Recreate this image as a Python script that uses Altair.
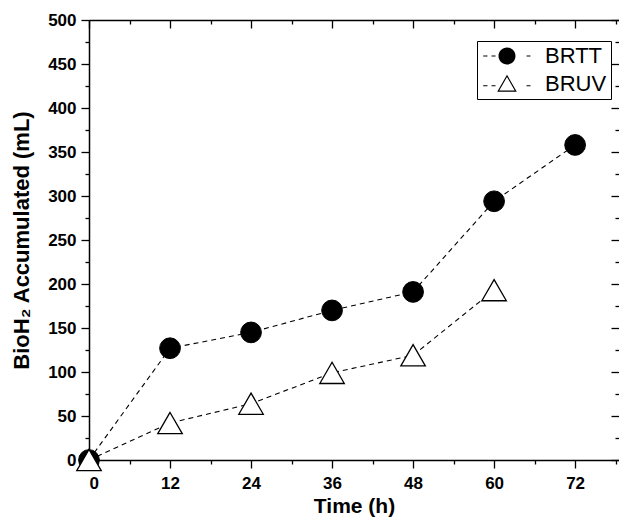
import altair as alt
import pandas as pd

FONT = "Liberation Sans"

hours = [0, 12, 24, 36, 48, 60, 72]
brtt = [0, 127, 145, 170, 191, 294, 358]
bruv = [0, 42, 64, 99, 119, 193]
series_names = ["BRTT", "BRUV"]

x_major = [0, 12, 24, 36, 48, 60, 72]
x_minor = [6, 18, 30, 42, 54, 66, 78]
y_major = [0, 50, 100, 150, 200, 250, 300, 350, 400, 450, 500]
y_minor = [25, 75, 125, 175, 225, 275, 325, 375, 425, 475]

rows = [{"t": t, "v": v, "series": "BRTT"} for t, v in zip(hours, brtt)]
rows += [{"t": t, "v": v, "series": "BRUV"} for t, v in zip(hours, bruv)]
df = pd.DataFrame(rows)

# legend symbols (filled paths): dashed line pieces with the marker in the middle
h = 0.065
path_brtt = (f"M-2.8,{-h}H-2.3V{h}H-2.8Z"
             f"M-1.82,{-h}H-1.35V{h}H-1.82Z"
             f"M2.3,{-h}H2.76V{h}H2.3Z"
             "M1,0A1,1,0,1,1,-1,0A1,1,0,1,1,1,0Z")
d = 0.2
path_bruv = (f"M-2.8,{d - h}H-2.3V{d + h}H-2.8Z"
             f"M-1.82,{d - h}H-1.35V{d + h}H-1.82Z"
             f"M2.3,{d - h}H2.76V{d + h}H2.3Z"
             "M0,-1.1L1.15,0.9L-1.15,0.9Z"
             "M0,-0.82L-0.909,0.76L0.909,0.76Z")

X_SCALE = alt.Scale(domain=[0, 78.5], nice=False, zero=False)
Y_SCALE = alt.Scale(domain=[0, 500], nice=False)


def axis(orient, values, size, labels=False, domain=False, inward=False, **kw):
    ts = alt.ExprRef(expr=str(-size)) if inward else size
    return alt.Axis(orient=orient, values=values, tickSize=ts, offset=0,
                    labels=labels, domain=domain, domainColor="black",
                    domainWidth=1.5, grid=False, tickColor="black",
                    tickWidth=1.3, **kw)


label_kw = dict(labelFont=FONT, labelFontSize=17, labelFontWeight="bold",
                labelColor="black")

base = alt.Chart(df)

lines = base.mark_line(color="black", strokeDash=[5, 4], strokeWidth=1.1).encode(
    x=alt.X("t:Q", scale=X_SCALE,
            axis=axis("bottom", x_major, 8, labels=True, domain=True,
                      labelPadding=7, title="Time (h)", titlePadding=4,
                      titleFont=FONT, titleFontSize=21, titleFontWeight="bold",
                      titleColor="black", **label_kw)),
    y=alt.Y("v:Q", scale=Y_SCALE,
            axis=axis("left", y_major, 8, labels=True, domain=True,
                      labelPadding=5, title="BioH\u2082 Accumulated (mL)",
                      titlePadding=14, titleFont=FONT, titleFontSize=22,
                      titleFontWeight="bold", titleColor="black", **label_kw)),
    detail="series:N",
)

pts_brtt = base.transform_filter(alt.datum.series == "BRTT").mark_point(
    shape="circle", filled=True, fill="black", stroke="black", strokeWidth=1,
    size=430, opacity=1
).encode(
    x=alt.X("t:Q", scale=X_SCALE, axis=axis("bottom", x_minor, 4, title=None)),
    y=alt.Y("v:Q", scale=Y_SCALE, axis=axis("left", y_minor, 4, title=None)),
)

pts_bruv = base.transform_filter(alt.datum.series == "BRUV").mark_point(
    shape="triangle-up", filled=True, fill="white", stroke="black",
    strokeWidth=1.3, size=600, opacity=1
).encode(
    x=alt.X("t:Q", scale=X_SCALE,
            axis=axis("top", x_major, 8, domain=True, inward=True, title=None)),
    y=alt.Y("v:Q", scale=Y_SCALE,
            axis=axis("right", y_major, 8, inward=True, title=None)),
)

leg = alt.Legend(
    orient="none", legendX=388, legendY=21, title=None,
    strokeColor="black", fillColor="white", padding=4, cornerRadius=0,
    symbolSize=289, symbolOffset=15, labelOffset=27, rowPadding=6,
    symbolFillColor="black", symbolStrokeWidth=0, symbolOpacity=1,
    labelFont=FONT, labelFontSize=22, labelColor="black",
)

legend_layer = base.transform_filter("datum.t < 0").mark_point(
    filled=True, fill="black", opacity=1, strokeWidth=0
).encode(
    x=alt.X("t:Q", scale=X_SCALE,
            axis=axis("top", x_minor, 4, inward=True, title=None)),
    y=alt.Y("v:Q", scale=Y_SCALE,
            axis=axis("right", y_minor, 4, inward=True, title=None)),
    shape=alt.Shape("series:N", scale=alt.Scale(domain=series_names,
                                                range=[path_brtt, path_bruv]),
                    legend=leg),
)

chart = alt.layer(lines, pts_brtt, pts_bruv, legend_layer).resolve_axis(
    x="independent", y="independent"
).properties(
    width=530, height=440,
    autosize=alt.AutoSizeParams(type="none"),
    padding={"left": 81, "top": 12, "right": 0, "bottom": 58},
).configure_view(strokeWidth=0).configure(background="white")

chart.save("out.html", embed_options={"renderer": "svg", "actions": False})
